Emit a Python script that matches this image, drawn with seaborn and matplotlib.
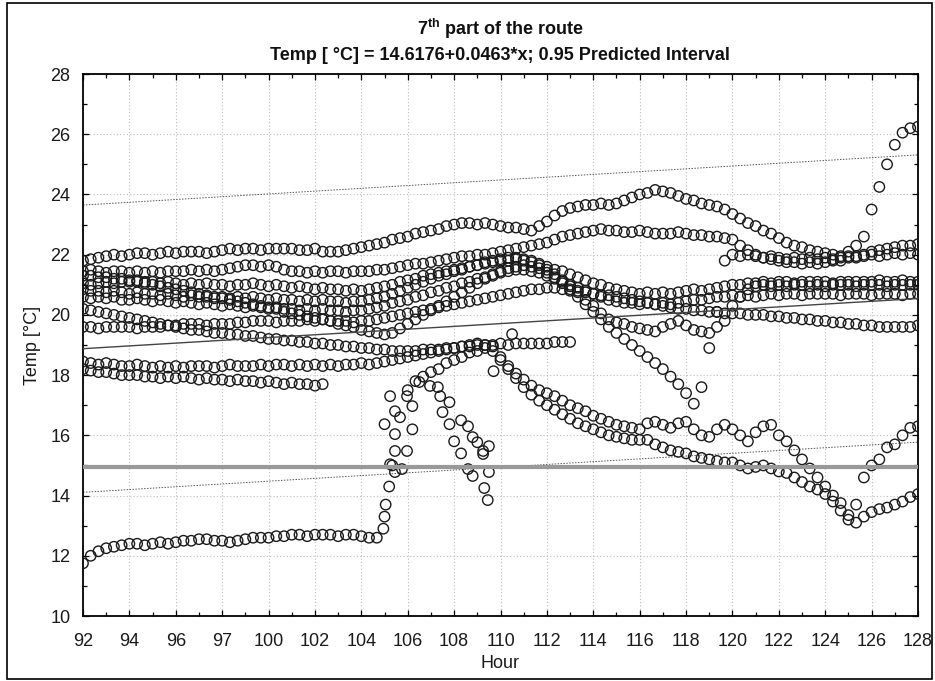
import numpy as np
import pandas as pd
import matplotlib
matplotlib.use("Agg")
import matplotlib.pyplot as plt
import seaborn as sns
from matplotlib.ticker import MultipleLocator, FixedLocator
from matplotlib.patches import Rectangle

# ---------------- data ----------------
# readings every 20 minutes from hour 92 to hour 128
HOURS = 92 + np.arange(109) / 3.0

SERIES_A = [21.8, 21.85, 21.9, 21.95, 22.0, 21.95, 22.0, 22.05, 22.05, 22.0, 22.05, 22.1,
            22.05, 22.1, 22.1, 22.1, 22.05, 22.1, 22.15, 22.2, 22.15, 22.2, 22.2, 22.15,
            22.2, 22.2, 22.2, 22.2, 22.15, 22.15, 22.2, 22.1, 22.1, 22.1, 22.15, 22.2,
            22.25, 22.3, 22.35, 22.4, 22.5, 22.55, 22.6, 22.7, 22.75, 22.8, 22.85, 22.95,
            23.0, 23.05, 23.05, 23.0, 23.05, 23.0, 22.95, 22.9, 22.9, 22.85, 22.8, 22.95,
            23.1, 23.3, 23.45, 23.55, 23.6, 23.65, 23.65, 23.7, 23.65, 23.7, 23.8, 23.9,
            24.0, 24.05, 24.15, 24.1, 24.05, 23.95, 23.85, 23.8, 23.7, 23.65, 23.6, 23.5,
            23.35, 23.2, 23.05, 22.95, 22.8, 22.7, 22.55, 22.4, 22.3, 22.25, 22.15, 22.1,
            22.05, 22.0, 21.95, 22.1, 22.3, 22.6, 23.5, 24.25, 25.0, 25.65, 26.05, 26.2,
            26.25]

SERIES_B = [21.45, 21.5, 21.45, 21.4, 21.45, 21.45, 21.4, 21.45, 21.4, 21.45, 21.4, 21.45,
            21.45, 21.45, 21.5, 21.45, 21.5, 21.45, 21.5, 21.55, 21.6, 21.65, 21.65, 21.6,
            21.65, 21.6, 21.5, 21.45, 21.45, 21.4, 21.45, 21.4, 21.45, 21.45, 21.4, 21.45,
            21.45, 21.45, 21.5, 21.5, 21.55, 21.6, 21.65, 21.7, 21.7, 21.75, 21.8, 21.85,
            21.9, 21.95, 21.95, 22.0, 22.0, 22.05, 22.1, 22.15, 22.2, 22.25, 22.3, 22.35,
            22.4, 22.5, 22.6, 22.65, 22.7, 22.75, 22.8, 22.85, 22.8, 22.8, 22.75, 22.75,
            22.8, 22.75, 22.7, 22.7, 22.7, 22.75, 22.7, 22.65, 22.65, 22.6, 22.6, 22.55,
            22.5, 22.3, 22.15, 22.0, 21.9, 21.85, 21.8, 21.75, 21.75, 21.7, 21.75, 21.7,
            21.75, 21.8, 21.8, 21.9, 21.95, 22.0, 22.1, 22.15, 22.2, 22.25, 22.3, 22.3,
            22.35]

SERIES_C = [21.05, 21.0, 21.05, 21.1, 21.05, 21.1, 21.1, 21.15, 21.1, 21.1, 21.05, 21.1,
            21.05, 21.0, 21.05, 21.0, 21.05, 21.0, 21.0, 20.95, 21.0, 21.0, 21.05, 21.0,
            20.95, 21.0, 20.95, 20.9, 20.95, 20.9, 20.85, 20.9, 20.85, 20.85, 20.8, 20.85,
            20.8, 20.85, 20.9, 20.95, 21.0, 21.1, 21.15, 21.2, 21.3, 21.35, 21.4, 21.45,
            21.5, 21.55, 21.6, 21.65, 21.7, 21.75, 21.8, 21.8, 21.85, 21.8, 21.75, 21.7,
            21.6, 21.5, 21.45, 21.35, 21.25, 21.15, 21.05, 21.0, 20.9, 20.85, 20.8, 20.75,
            20.7, 20.75, 20.7, 20.75, 20.7, 20.75, 20.8, 20.85, 20.8, 20.85, 20.9, 20.95,
            21.0, 21.0, 21.05, 21.05, 21.1, 21.05, 21.1, 21.1, 21.05, 21.1, 21.1, 21.1,
            21.1, 21.05, 21.1, 21.1, 21.1, 21.1, 21.1, 21.15, 21.1, 21.1, 21.15, 21.1,
            21.1]

SERIES_D = [20.6, 20.55, 20.6, 20.55, 20.6, 20.5, 20.5, 20.55, 20.5, 20.45, 20.5, 20.45,
            20.4, 20.45, 20.4, 20.35, 20.4, 20.35, 20.3, 20.35, 20.3, 20.25, 20.3, 20.25,
            20.2, 20.25, 20.2, 20.2, 20.15, 20.2, 20.15, 20.2, 20.15, 20.15, 20.1, 20.15,
            20.15, 20.2, 20.25, 20.3, 20.4, 20.45, 20.5, 20.6, 20.65, 20.75, 20.8, 20.9,
            20.95, 21.05, 21.1, 21.2, 21.25, 21.3, 21.4, 21.45, 21.5, 21.5, 21.45, 21.4,
            21.3, 21.2, 21.1, 21.0, 20.9, 20.8, 20.7, 20.6, 20.5, 20.45, 20.4, 20.4,
            20.35, 20.4, 20.35, 20.4, 20.35, 20.4, 20.45, 20.5, 20.5, 20.55, 20.6, 20.6,
            20.65, 20.6, 20.65, 20.6, 20.65, 20.7, 20.65, 20.7, 20.7, 20.65, 20.7, 20.7,
            20.7, 20.7, 20.65, 20.7, 20.7, 20.7, 20.65, 20.7, 20.7, 20.7, 20.65, 20.7,
            20.7]

SERIES_E = [19.6, 19.6, 19.55, 19.6, 19.6, 19.6, 19.6, 19.55, 19.6, 19.6, 19.6, 19.65,
            19.65, 19.7, 19.7, 19.7, 19.65, 19.7, 19.7, 19.7, 19.75, 19.75, 19.8, 19.8,
            19.8, 19.75, 19.8, 19.8, 19.8, 19.85, 19.8, 19.85, 19.8, 19.8, 19.8, 19.75,
            19.8, 19.8, 19.85, 19.9, 19.95, 20.0, 20.05, 20.1, 20.15, 20.2, 20.25, 20.3,
            20.35, 20.4, 20.45, 20.5, 20.55, 20.6, 20.65, 20.7, 20.75, 20.8, 20.85, 20.85,
            20.9, 20.9, 20.85, 20.8, 20.8, 20.75, 20.7, 20.65, 20.65, 20.6, 20.55, 20.5,
            20.45, 20.4, 20.35, 20.3, 20.25, 20.2, 20.2, 20.15, 20.15, 20.1, 20.1, 20.05,
            20.05, 20.05, 20.0, 20.0, 20.0, 19.95, 19.95, 19.9, 19.9, 19.85, 19.85, 19.8,
            19.8, 19.75, 19.75, 19.7, 19.7, 19.65, 19.65, 19.6, 19.6, 19.6, 19.6, 19.6,
            19.65]

SERIES_F = [21.3, 21.3, 21.25, 21.25, 21.2, 21.2, 21.15, 21.1, 21.05, 21.0, 20.95, 20.9,
            20.85, 20.8, 20.75, 20.7, 20.65, 20.6, 20.55, 20.5, 20.45, 20.4, 20.35, 20.3,
            20.25, 20.2, 20.1, 20.05, 20.0, 19.95, 19.9, 19.85, 19.8, 19.7, 19.65, 19.6,
            19.5, 19.45, 19.4, 19.35, 19.4, 19.55, 19.7, 19.85, 20.0, 20.15, 20.3, 20.45,
            20.6, 20.75, 20.9, 21.05, 21.2, 21.35, 21.45, 21.55, 21.6, 21.65, 21.6, 21.55,
            21.4, 21.25, 21.05, 20.85, 20.6, 20.35, 20.1, 19.85, 19.6, 19.4, 19.2, 19.0,
            18.8, 18.6, 18.4, 18.2, 17.95, 17.7, 17.4, 17.05, 17.6, 18.9, 20.1, 21.8,
            22.0, 21.95, 22.0, 21.95, 21.9, 21.95, 21.9, 21.85, 21.9, 21.85, 21.9, 21.85,
            21.9, 21.85, 21.9, 21.95, 21.9, 21.95, 22.0, 21.95, 22.0, 22.05, 22.0, 22.05,
            22.0]

SERIES_L = [20.85, 20.8, 20.8, 20.75, 20.8, 20.75, 20.7, 20.75, 20.7, 20.7, 20.65, 20.7,
            20.65, 20.6, 20.65, 20.6, 20.6, 20.55, 20.6, 20.55, 20.6, 20.55, 20.6, 20.55,
            20.5, 20.55, 20.5, 20.5, 20.45, 20.5, 20.45, 20.5, 20.45, 20.45, 20.4, 20.45,
            20.45, 20.5, 20.55, 20.6, 20.7, 20.8, 20.9, 21.0, 21.1, 21.2, 21.3, 21.35,
            21.45, 21.5, 21.6, 21.65, 21.75, 21.8, 21.85, 21.9, 21.9, 21.85, 21.8, 21.65,
            21.5, 21.35, 21.15, 20.95, 20.75, 20.5, 20.3, 20.05, 19.85, 19.75, 19.7, 19.6,
            19.55, 19.5, 19.45, 19.6, 19.7, 19.8, 19.65, 19.5, 19.45, 19.4, 19.6, 19.8,
            20.3, 20.6, 20.85, 20.95, 21.0, 20.95, 21.0, 20.95, 21.0, 21.0, 20.95, 21.0,
            20.95, 21.0, 21.0, 21.0, 20.95, 21.0, 21.0, 21.0, 20.95, 21.0, 21.0, 21.0,
            21.0]

# these two chains stop before the end of the record (hour 113 and hour 102.3)
SERIES_G = [20.2, 20.15, 20.1, 20.05, 20.0, 19.95, 19.9, 19.85, 19.8, 19.75, 19.7, 19.65,
            19.6, 19.55, 19.5, 19.5, 19.45, 19.4, 19.4, 19.35, 19.35, 19.3, 19.3, 19.25,
            19.2, 19.2, 19.15, 19.15, 19.1, 19.1, 19.05, 19.05, 19.0, 19.0, 18.95, 18.95,
            18.9, 18.9, 18.85, 18.85, 18.8, 18.8, 18.8, 18.8, 18.85, 18.85, 18.85, 18.9,
            18.9, 18.95, 18.95, 19.0, 19.0, 19.0, 19.05, 19.0, 19.05, 19.05, 19.05, 19.05,
            19.05, 19.1, 19.1, 19.1]

SERIES_H = [18.2, 18.15, 18.1, 18.1, 18.05, 18.0, 18.0, 18.0, 17.95, 17.95, 17.9, 17.95,
            17.9, 17.95, 17.9, 17.85, 17.9, 17.85, 17.85, 17.8, 17.85, 17.8, 17.8, 17.75,
            17.8, 17.75, 17.7, 17.75, 17.7, 17.7, 17.65, 17.7]

SERIES_J = [18.45, 18.4, 18.35, 18.4, 18.35, 18.3, 18.3, 18.35, 18.3, 18.25, 18.3, 18.25,
            18.3, 18.25, 18.3, 18.3, 18.3, 18.25, 18.3, 18.35, 18.3, 18.3, 18.3, 18.35,
            18.3, 18.35, 18.35, 18.3, 18.35, 18.3, 18.35, 18.3, 18.35, 18.3, 18.35, 18.35,
            18.4, 18.35, 18.4, 18.45, 18.5, 18.55, 18.6, 18.65, 18.7, 18.75, 18.8, 18.85,
            18.9, 18.95, 19.0, 19.05, 19.0, 18.95, 18.6, 18.3, 18.05, 17.85, 17.65, 17.5,
            17.4, 17.3, 17.15, 17.0, 16.9, 16.8, 16.65, 16.55, 16.45, 16.35, 16.3, 16.25,
            16.2, 16.4, 16.45, 16.35, 16.25, 16.4, 16.45, 16.2, 16.0, 15.95, 16.2, 16.35,
            16.2, 16.0, 15.8, 16.1, 16.3, 16.35, 16.0, 15.8, 15.5, 15.2, 14.9, 14.6,
            14.3, 14.0, 13.75, 13.35, 13.7, 14.6, 15.0, 15.2, 15.6, 15.7, 16.0, 16.25,
            16.3]

SERIES_I = [11.75, 12.0, 12.15, 12.25, 12.3, 12.35, 12.4, 12.4, 12.35, 12.4, 12.45, 12.4,
            12.45, 12.5, 12.5, 12.55, 12.55, 12.5, 12.5, 12.45, 12.5, 12.55, 12.6, 12.6,
            12.6, 12.65, 12.65, 12.7, 12.7, 12.65, 12.7, 12.7, 12.7, 12.65, 12.7, 12.7,
            12.65, 12.6, 12.6, 13.3, 15.0, 16.6, 17.5, 17.8, 17.95, 18.1, 18.2, 18.4,
            18.5, 18.6, 18.75, 18.8, 18.9, 18.8, 18.5, 18.2, 17.9, 17.6, 17.35, 17.15,
            17.0, 16.85, 16.7, 16.55, 16.4, 16.3, 16.2, 16.1, 16.0, 15.95, 15.9, 15.85,
            15.85, 15.85, 15.7, 15.6, 15.5, 15.45, 15.4, 15.3, 15.25, 15.2, 15.15, 15.1,
            15.1, 15.0, 14.9, 14.95, 15.0, 14.9, 14.8, 14.75, 14.6, 14.45, 14.3, 14.2,
            14.05, 13.8, 13.5, 13.2, 13.1, 13.3, 13.45, 13.55, 13.6, 13.7, 13.8, 13.95,
            14.05]

# scattered single readings around hours 105-110 (fast changes)
V_HOURS = [104.95, 105.05, 105.2, 105.0, 105.24, 105.45, 105.45, 105.45, 105.97, 105.24,
           105.45, 105.75, 106.2, 105.97, 106.2, 106.5, 106.96, 107.3, 107.4, 107.5,
           107.8, 107.8, 108.0, 108.3, 108.3, 108.6, 108.8, 109.0, 109.25, 109.5,
           109.25, 108.6, 108.8, 109.5, 109.3, 109.45, 109.7, 110.5]
V_TEMPS = [12.9, 13.7, 14.3, 16.37, 17.3, 16.8, 16.04, 15.48, 15.48, 15.04,
           14.78, 14.88, 16.2, 17.3, 16.97, 17.77, 17.64, 17.6, 17.3, 16.77,
           17.1, 16.37, 15.8, 16.5, 15.4, 16.3, 15.94, 15.77, 15.48, 15.64,
           15.38, 14.88, 14.65, 14.78, 14.25, 13.85, 18.13, 19.36]

# regression from the title and its 0.95 prediction band half-width
REG_INTERCEPT = 14.6176
REG_SLOPE = 0.0463
PI_HALF = 4.77
REF_TEMP = 14.95

XTICKS = [92, 94, 96, 98, 100, 102, 104, 106, 108, 110, 112, 114, 116, 118, 120, 122, 124, 126, 128]
XTICK_LABELS = ["92", "94", "96", "97", "100", "102", "104", "106", "108", "110", "112",
                "114", "116", "118", "120", "122", "124", "126", "128"]
YTICKS = [10, 12, 14, 16, 18, 20, 22, 24, 26, 28]

# ---------------- assemble ----------------
series = {"A": SERIES_A, "B": SERIES_B, "C": SERIES_C, "D": SERIES_D, "E": SERIES_E,
          "F": SERIES_F, "L": SERIES_L, "G": SERIES_G, "H": SERIES_H, "J": SERIES_J,
          "I": SERIES_I}
frames = []
for name, vals in series.items():
    vals = np.asarray(vals, dtype=float)
    frames.append(pd.DataFrame({"Hour": HOURS[:len(vals)], "Temp": vals, "run": name}))
frames.append(pd.DataFrame({"Hour": V_HOURS, "Temp": V_TEMPS, "run": "V"}))
df = pd.concat(frames, ignore_index=True)

xr = np.array([92.0, 128.0])
lines = pd.DataFrame({
    "Hour": np.concatenate([xr, xr, xr]),
    "Temp": np.concatenate([REG_INTERCEPT + REG_SLOPE * xr,
                            REG_INTERCEPT + REG_SLOPE * xr + PI_HALF,
                            REG_INTERCEPT + REG_SLOPE * xr - PI_HALF]),
    "kind": ["fit"] * 2 + ["upper"] * 2 + ["lower"] * 2,
})

# ---------------- plot ----------------
sns.set_theme(style="white")
plt.rcParams["font.family"] = ["Liberation Sans", "DejaVu Sans"]
plt.rcParams["mathtext.fontset"] = "custom"
plt.rcParams["mathtext.rm"] = "Liberation Sans"
plt.rcParams["mathtext.bf"] = "Liberation Sans:bold"

W, H = 935, 681
fig = plt.figure(figsize=(W / 100, H / 100), dpi=100)
ax = fig.add_axes([83 / W, 1 - 616 / H, (918 - 83) / W, (616 - 74) / H])

ax.grid(True, which="major", color="#bdbdbd", linestyle=(0, (1, 2)), linewidth=0.8, zorder=0)

sns.lineplot(data=lines[lines.kind != "fit"], x="Hour", y="Temp", units="kind",
             estimator=None, color="#555555", linewidth=0.7, linestyle=(0, (1.5, 1.5)),
             ax=ax, legend=False, zorder=1)

sns.scatterplot(data=df, x="Hour", y="Temp", marker="o", s=56, facecolor="none",
                edgecolor="#1a1a1a", linewidth=1.0, ax=ax, legend=False, zorder=3)

sns.lineplot(data=lines[lines.kind == "fit"], x="Hour", y="Temp", estimator=None,
             color="#444444", linewidth=1.0, ax=ax, legend=False, zorder=4)
ax.axhline(REF_TEMP, color="#999999", linewidth=3.0, zorder=5)

ax.set_xlim(92, 128)
ax.set_ylim(10, 28)
ax.xaxis.set_major_locator(FixedLocator(XTICKS))
ax.set_xticklabels(XTICK_LABELS)
ax.xaxis.set_minor_locator(MultipleLocator(1))
ax.yaxis.set_major_locator(FixedLocator(YTICKS))
ax.yaxis.set_minor_locator(MultipleLocator(1))
ax.tick_params(which="both", direction="in", top=True, right=True, bottom=True, left=True,
               color="black", width=0.9)
ax.tick_params(which="major", length=4, labelsize=13, labelcolor="#1a1a1a")
ax.tick_params(axis="x", which="major", pad=12)
ax.tick_params(axis="y", which="major", pad=9)
ax.tick_params(which="minor", length=3)
for sp in ax.spines.values():
    sp.set_color("black")
    sp.set_linewidth(1.3)

ax.set_xlabel("Hour", fontsize=13, color="#1a1a1a", labelpad=4)
ax.set_ylabel("Temp [°C]", fontsize=13, color="#1a1a1a", labelpad=7)

fig.text(500 / W, 1 - 29 / H, r"7$^{\mathbf{th}}$ part of the route", ha="center",
         va="center", fontsize=13, fontweight="bold", color="#111111")
fig.text(500 / W, 1 - 55 / H, "Temp [ °C] = 14.6176+0.0463*x; 0.95 Predicted Interval",
         ha="center", va="center", fontsize=13, fontweight="bold", color="#111111")

fig.add_artist(Rectangle((7 / W, 2 / H), (W - 10) / W, (H - 5) / H, transform=fig.transFigure,
                         fill=False, edgecolor="black", linewidth=1.2))

fig.savefig("out.png", dpi=100)
